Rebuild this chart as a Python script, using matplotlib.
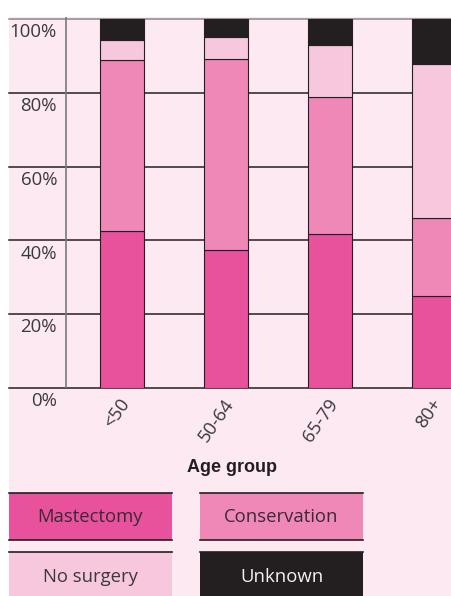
import matplotlib.pyplot as plt
from matplotlib.patches import Rectangle
from matplotlib.lines import Line2D

age_groups = ['<50', '50-64', '65-79', '80+']
mastectomy = [42.6, 37.3, 41.8, 24.9]
conservation = [46.2, 51.9, 37.1, 21.1]
no_surgery = [5.5, 5.9, 14.1, 41.8]
unknown = [5.7, 4.9, 7.0, 12.2]
y_ticks = [0, 20, 40, 60, 80, 100]
y_tick_labels = ['0%', '20%', '40%', '60%', '80%', '100%']

series_names = ['Mastectomy', 'Conservation', 'No surgery', 'Unknown']
series_colors = ['#e8519b', '#ef88b7', '#f7c7de', '#231f20']
text_colors = ['#3a2a33', '#3a2a33', '#3a3a3a', '#f2f2f2']

BG = '#fce9f2'
DARK = '#231f20'
W, H = 452, 596


def fx(px):
    return px / W


def fy(py):
    # pixel from top -> figure fraction
    return 1 - py / H


def draw_chart(output_loc):
    plt.rcParams['font.family'] = ['Open Sans', 'DejaVu Sans']
    fig = plt.figure(figsize=(W / 100, H / 100), dpi=100, facecolor='white')

    # pink panel behind everything
    fig.add_artist(Rectangle((fx(9), 0), 1 - fx(9), fy(17), transform=fig.transFigure,
                             facecolor=BG, edgecolor='none', zorder=0))

    ax = fig.add_axes([fx(9), fy(388), 1 - fx(9), fy(17) - fy(388)])
    ax.set_facecolor('none')
    ax.set_xlim((9 - 122) / 104, (452 - 122) / 104)
    ax.set_ylim(0, 100.5)
    for s in ax.spines.values():
        s.set_visible(False)
    ax.set_xticks([])
    ax.set_yticks([])

    # grid lines
    for v in y_ticks:
        c = '#8a8a8a' if v == 100 else DARK
        ax.axhline(v, color=c, lw=1.1, zorder=1, clip_on=False)
    ax.axvline((66 - 122) / 104, ymin=0, ymax=1, color='#7a7a7a', lw=1.2, zorder=1)

    x = range(len(age_groups))
    bottom = [0] * len(age_groups)
    for vals, col in zip([mastectomy, conservation, no_surgery, unknown], series_colors):
        ax.bar(x, vals, width=44 / 104, bottom=bottom, color=col, edgecolor=DARK,
               linewidth=0.8, zorder=2)
        bottom = [b + v for b, v in zip(bottom, vals)]

    for v, lab in zip(y_ticks, y_tick_labels):
        ax.text((57 - 122) / 104, v - 3.6, lab, ha='right', va='center',
                fontsize=13.4, color='#3a3a3a', clip_on=False)

    for i, lab in enumerate(age_groups):
        ax.text(i - 3 / 104, -2.0, lab, ha='right', va='top', rotation=55,
                rotation_mode='anchor', fontsize=13.2, color='#3a3a3a', clip_on=False)

    fig.text(fx(232), fy(467), 'Age group', ha='center', va='center', fontsize=13,
             fontweight='bold', family=['Liberation Sans', 'DejaVu Sans'], color=DARK)

    # legend boxes
    boxes = [(9, 493, 540), (200, 493, 540), (9, 552, 596), (200, 552, 596)]
    for (x0, top, bot), name, col, tcol in zip(boxes, series_names, series_colors, text_colors):
        fig.add_artist(Rectangle((fx(x0), fy(bot)), fx(163), fy(top) - fy(bot),
                                 transform=fig.transFigure, facecolor=col,
                                 edgecolor='none', zorder=2))
        fig.add_artist(Line2D([fx(x0), fx(x0 + 163)], [fy(top), fy(top)],
                              transform=fig.transFigure, color=DARK, lw=1.2, zorder=3))
        if bot < 590:
            fig.add_artist(Line2D([fx(x0), fx(x0 + 163)], [fy(bot), fy(bot)],
                                  transform=fig.transFigure, color=DARK, lw=1.2, zorder=3))
        text_y = (top + bot) / 2 if bot < 590 else 577
        fig.text(fx(x0 + 81.5), fy(text_y), name, ha='center', va='center',
                 fontsize=13.3, color=tcol, zorder=4)

    plt.savefig(output_loc, dpi=100, facecolor=fig.get_facecolor())


if __name__ == '__main__':
    draw_chart('out.png')
